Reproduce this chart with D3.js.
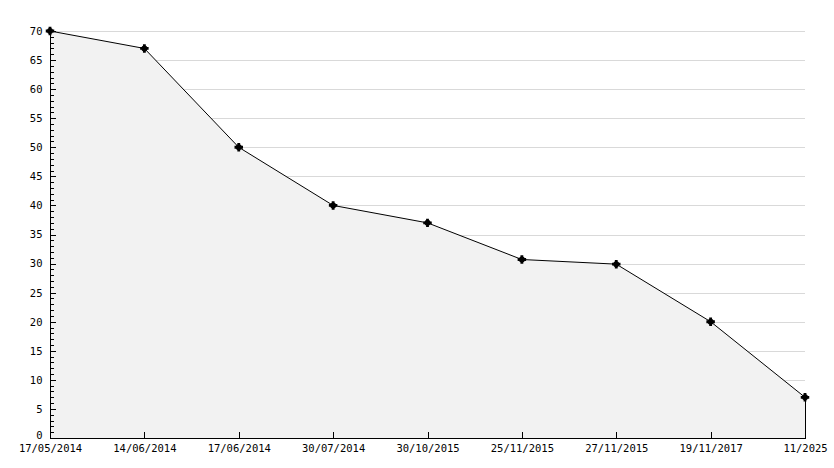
<!DOCTYPE html>
<html><head><meta charset="utf-8">
<script src="https://cdn.jsdelivr.net/npm/d3@7"></script>
<style>
html,body{margin:0;padding:0;background:#fff;}
svg{display:block;}
text{font-family:"DejaVu Sans Mono",monospace;font-size:10px;fill:#000;}
</style></head>
<body>
<svg id="c" width="834" height="468"></svg>
<script>
const categories = ["17/05/2014","14/06/2014","17/06/2014","30/07/2014","30/10/2015","25/11/2015","27/11/2015","19/11/2017","11/2025"];
const values = [70, 67, 50, 40, 37, 30.7, 29.9, 20, 7];
const yMajorTicks = [0,5,10,15,20,25,30,35,40,45,50,55,60,65,70];
const yMinorTicks = d3.range(0, 71, 1);

(function(){
const svg = d3.select("#c");
const mLeft = 50, mRight = 805, mTop = 31, mBottom = 438;

const x = d3.scalePoint().domain(categories).range([mLeft, mRight]);
const y = d3.scaleLinear().domain([0, 70]).range([mBottom, mTop]);

// gridlines
svg.append("g").selectAll("line").data(yMajorTicks.filter(d => d > 0)).join("line")
  .attr("x1", mLeft).attr("x2", mRight)
  .attr("y1", d => Math.round(y(d)) + 0.5).attr("y2", d => Math.round(y(d)) + 0.5)
  .attr("stroke", "#d9d9d9").attr("stroke-width", 1);

const data = categories.map((c, i) => ({c, v: values[i]}));

// area
const area = d3.area().x(d => x(d.c)).y0(y(0)).y1(d => y(d.v));
svg.append("path").datum(data).attr("d", area).attr("fill", "#f2f2f2");

// line
const line = d3.line().x(d => x(d.c)).y(d => y(d.v));
svg.append("path").datum(data).attr("d", line).attr("fill", "none").attr("stroke", "#000").attr("stroke-width", 1);
// right closing edge
const lastX = x(categories[categories.length-1]);
svg.append("line")
  .attr("x1", lastX + 0.5).attr("x2", lastX + 0.5)
  .attr("y1", y(values[values.length-1])).attr("y2", y(0))
  .attr("stroke", "#000").attr("stroke-width", 1);

// y axis minor ticks
svg.append("g").selectAll("line").data(yMinorTicks).join("line")
  .attr("x1", mLeft).attr("x2", d => mLeft + (d % 5 === 0 ? 6 : 4))
  .attr("y1", d => Math.round(y(d)) + 0.5).attr("y2", d => Math.round(y(d)) + 0.5)
  .attr("stroke", "#000").attr("stroke-width", 1);

// y axis
const yAxis = d3.axisLeft(y).tickValues(yMajorTicks).tickSize(0).tickPadding(8);
const gy = svg.append("g").attr("transform", `translate(${mLeft + 0.5},0)`).call(yAxis);
gy.select(".domain").remove();
gy.selectAll("text").style("font-family", "DejaVu Sans Mono").style("font-size", "10.5px").attr("fill", "#000");
gy.selectAll(".tick").filter(d => d === 0).select("text").attr("dy", "0.05em");
svg.append("line").attr("x1", mLeft + 0.5).attr("x2", mLeft + 0.5).attr("y1", mTop - 1).attr("y2", mBottom + 1)
  .attr("stroke", "#000").attr("stroke-width", 1);

// x axis
const xAxis = d3.axisBottom(x).tickSize(0).tickPadding(6);
const gx = svg.append("g").attr("transform", `translate(0,${mBottom + 0.5})`).call(xAxis);
gx.select(".domain").remove();
gx.selectAll("text").style("font-family", "DejaVu Sans Mono").style("font-size", "10.5px").attr("fill", "#000");
svg.append("g").selectAll("line").data(categories.slice(1, -1)).join("line")
  .attr("x1", d => Math.round(x(d)) + 0.5).attr("x2", d => Math.round(x(d)) + 0.5)
  .attr("y1", mBottom).attr("y2", mBottom - 6)
  .attr("stroke", "#000").attr("stroke-width", 1);
svg.append("line").attr("x1", mLeft).attr("x2", mRight + 1).attr("y1", mBottom + 0.5).attr("y2", mBottom + 0.5)
  .attr("stroke", "#000").attr("stroke-width", 1);

// markers
const sym = d3.symbol().type(d3.symbolCross).size(40);
svg.append("g").selectAll("path").data(data).join("path")
  .attr("transform", d => `translate(${x(d.c)},${y(d.v)})`)
  .attr("d", sym).attr("fill", "#000");
svg.append("g").selectAll("circle").data(data).join("circle")
  .attr("cx", d => x(d.c)).attr("cy", d => y(d.v)).attr("r", 3).attr("fill", "#000");
})();
</script>
</body></html>
